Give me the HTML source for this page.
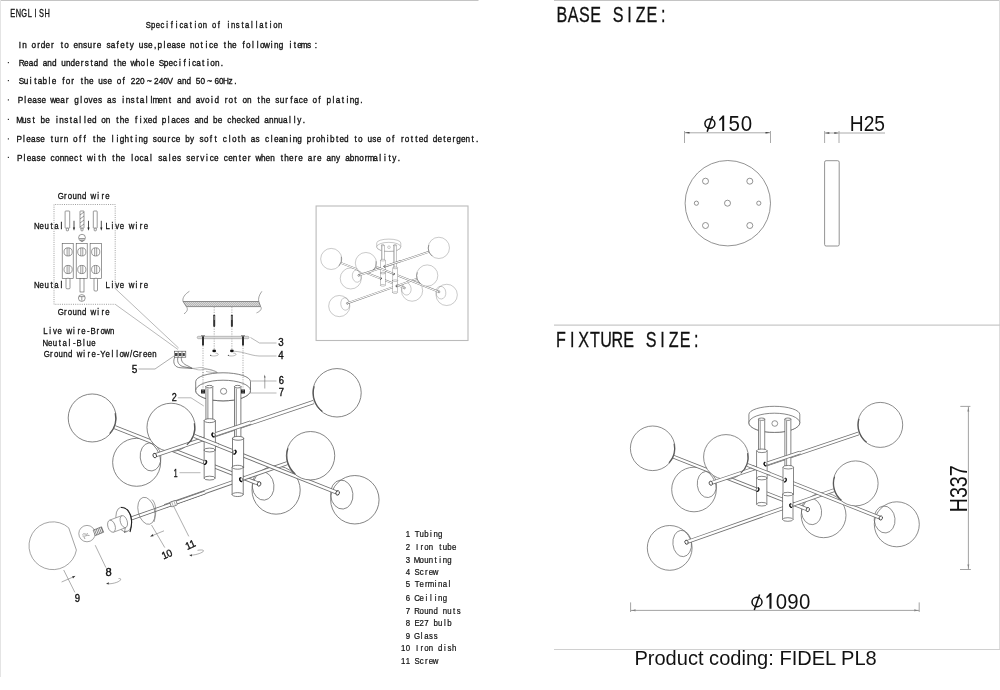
<!DOCTYPE html>
<html><head><meta charset="utf-8">
<style>
html,body{margin:0;padding:0;background:#fff;width:1000px;height:690px;overflow:hidden}
svg{display:block;filter:grayscale(1)}
.t{font-family:"Liberation Mono",monospace;fill:#111;stroke:#111;stroke-width:0.2}
.s{font-family:"Liberation Sans",sans-serif;fill:#111}
.ln{fill:none;stroke:#555;stroke-width:0.8}
.g{fill:#fff;stroke:#666;stroke-width:0.75}
.o{fill:none;stroke:#666;stroke-width:0.7}
.cy{fill:#fff;stroke:#555;stroke-width:0.7}
.nb{fill:#fff;stroke:#333;stroke-width:0.8}
</style></head>
<body>
<svg width="1000" height="690" viewBox="0 0 1000 690">
<defs>
  <g id="phi"><ellipse cx="0" cy="0" rx="5.0" ry="4.7" fill="none" stroke="#111" stroke-width="1.5"/><line x1="-2.7" y1="8.1" x2="2.6" y2="-7.6" stroke="#111" stroke-width="1.5"/></g>
  <path id="one" d="M-1.5,-15.4 L0,-15.4 L0,0 L-2,0 L-2,-12.5 L-4.6,-10.1 L-5.1,-11.5 Z" fill="#111"/>
  <g id="fx">
<circle cx="694" cy="489.5" r="22.3" class="g"/>
<ellipse cx="706.9" cy="484.5" rx="9.6" ry="13.1" transform="rotate(-6 706.9 484.5)" class="o"/>
<circle cx="896.8" cy="524.3" r="22.5" class="g"/>
<ellipse cx="884.6" cy="519.5" rx="10.4" ry="13.5" transform="rotate(-6 884.6 519.5)" class="o"/>
<circle cx="823.6" cy="515.3" r="22.4" class="g"/>
<ellipse cx="811.5" cy="511.5" rx="10.1" ry="13.2" transform="rotate(-6 811.5 511.5)" class="o"/>
<circle cx="669.7" cy="547.9" r="22.4" class="g"/>
<ellipse cx="682.2" cy="543.5" rx="9.3" ry="13.2" transform="rotate(-6 682.2 543.5)" class="o"/>
<line x1="673.50" y1="456.80" x2="807.80" y2="509.60" stroke="#707070" stroke-width="3.8"/><line x1="673.50" y1="456.80" x2="807.80" y2="509.60" stroke="#fff" stroke-width="2.3"/>
<circle cx="726" cy="457" r="22.4" class="g"/>
<line x1="710.80" y1="483.20" x2="858.50" y2="433.50" stroke="#707070" stroke-width="3.8"/><line x1="710.80" y1="483.20" x2="858.50" y2="433.50" stroke="#fff" stroke-width="2.3"/>
<line x1="686.50" y1="542.20" x2="834.00" y2="490.20" stroke="#707070" stroke-width="3.8"/><line x1="686.50" y1="542.20" x2="834.00" y2="490.20" stroke="#fff" stroke-width="2.3"/>
<line x1="747.50" y1="465.00" x2="880.80" y2="518.00" stroke="#707070" stroke-width="3.8"/><line x1="747.50" y1="465.00" x2="880.80" y2="518.00" stroke="#fff" stroke-width="2.3"/>
<circle cx="652.7" cy="448.3" r="22.3" class="g"/>
<circle cx="880.2" cy="424.9" r="22.5" class="g"/>
<circle cx="855.6" cy="483.4" r="22.5" class="g"/>
<path d="M674.07,443.76 A21.85,21.85 0 0 1 668.94,462.92" fill="none" stroke="#555" stroke-width="1.1"/>
<path d="M747.62,453.19 A21.95,21.95 0 0 1 740.69,473.31" fill="none" stroke="#555" stroke-width="1.1"/>
<path d="M866.62,442.28 A22.05,22.05 0 0 1 859.00,418.82" fill="none" stroke="#555" stroke-width="1.1"/>
<path d="M841.43,500.29 A22.05,22.05 0 0 1 834.63,476.59" fill="none" stroke="#555" stroke-width="1.1"/>
<path d="M748.9,414.5 A25.45,8.2 0 0 1 799.8,414.5 L799.8,422.8 A25.45,9.6 0 0 1 748.9,422.8 Z" class="cy"/>
<ellipse cx="774.35" cy="422.8" rx="25.45" ry="9.6" class="cy"/>
<ellipse cx="774.8" cy="423.5" rx="2.9" ry="2.8" class="o"/>
<rect x="758.4" y="419" width="6.4" height="33" class="cy"/><line x1="760.2" y1="421" x2="760.2" y2="451" class="o"/>
<ellipse cx="761.6" cy="419.2" rx="3.2" ry="1.2" class="cy"/>
<rect x="784.9" y="419" width="6.0" height="48.5" class="cy"/><line x1="786.6" y1="421" x2="786.6" y2="467" class="o"/>
<ellipse cx="787.9" cy="419.2" rx="3.0" ry="1.2" class="cy"/>
<rect x="756.7" y="450.8" width="10.40" height="27.30" class="cy"/><path d="M756.7,478.1 A5.20,1.8 0 0 0 767.1,478.1" class="o"/><ellipse cx="761.90" cy="450.8" rx="5.20" ry="1.8" class="cy"/>
<rect x="756.7" y="478.1" width="10.20" height="26.10" class="cy"/><ellipse cx="761.80" cy="504.2" rx="5.10" ry="1.8" class="cy"/><ellipse cx="761.80" cy="478.1" rx="5.10" ry="1.8" class="cy"/>
<rect x="783.0" y="467.2" width="10.50" height="26.90" class="cy"/><path d="M783.0,494.1 A5.25,1.8 0 0 0 793.5,494.1" class="o"/><ellipse cx="788.25" cy="467.2" rx="5.25" ry="1.8" class="cy"/>
<rect x="782.7" y="494.1" width="10.30" height="25.40" class="cy"/><ellipse cx="787.85" cy="519.5" rx="5.15" ry="1.8" class="cy"/><ellipse cx="787.85" cy="494.1" rx="5.15" ry="1.8" class="cy"/>
<line x1="752.00" y1="466.80" x2="770.00" y2="473.80" stroke="#707070" stroke-width="3.8"/><line x1="752.00" y1="466.80" x2="770.00" y2="473.80" stroke="#fff" stroke-width="2.3"/>
<ellipse cx="765.4" cy="464.1" rx="1.5" ry="1.9" transform="rotate(-20 765.4 464.1)" fill="#fff" stroke="#444" stroke-width="0.6"/><path d="M765.6999999999999,462.20000000000005 A1.5,1.9 0 0 0 765.6999999999999,466.0" transform="rotate(-20 765.4 464.1)" fill="none" stroke="#111" stroke-width="1.3"/>
<ellipse cx="785.0" cy="480.1" rx="1.5" ry="1.9" transform="rotate(20 785.0 480.1)" fill="#fff" stroke="#444" stroke-width="0.6"/><path d="M784.7,478.20000000000005 A1.5,1.9 0 0 1 784.7,482.0" transform="rotate(20 785.0 480.1)" fill="none" stroke="#111" stroke-width="1.3"/>
<ellipse cx="757.6" cy="489.6" rx="1.5" ry="1.9" transform="rotate(20 757.6 489.6)" fill="#fff" stroke="#444" stroke-width="0.6"/><path d="M757.3000000000001,487.70000000000005 A1.5,1.9 0 0 1 757.3000000000001,491.5" transform="rotate(20 757.6 489.6)" fill="none" stroke="#111" stroke-width="1.3"/>
<ellipse cx="791.1" cy="505.6" rx="1.5" ry="1.9" transform="rotate(-20 791.1 505.6)" fill="#fff" stroke="#444" stroke-width="0.6"/><path d="M791.4,503.70000000000005 A1.5,1.9 0 0 0 791.4,507.5" transform="rotate(-20 791.1 505.6)" fill="none" stroke="#111" stroke-width="1.3"/>
<line x1="767.50" y1="463.40" x2="800.00" y2="452.50" stroke="#707070" stroke-width="3.8"/><line x1="767.50" y1="463.40" x2="800.00" y2="452.50" stroke="#fff" stroke-width="2.3"/>
<ellipse cx="710.8" cy="483.2" rx="1.6" ry="2.1" transform="rotate(-18 710.8 483.2)" class="nb"/>
<ellipse cx="880.8" cy="518.0" rx="1.6" ry="2.1" transform="rotate(20 880.8 518.0)" class="nb"/>
<ellipse cx="807.8" cy="509.6" rx="1.6" ry="2.1" transform="rotate(20 807.8 509.6)" class="nb"/>
<ellipse cx="686.5" cy="542.2" rx="1.6" ry="2.1" transform="rotate(-18 686.5 542.2)" class="nb"/>
  </g>
  <g id="fxe">
<circle cx="694" cy="489.5" r="22.3" class="g"/>
<ellipse cx="706.9" cy="484.5" rx="9.6" ry="13.1" transform="rotate(-6 706.9 484.5)" class="o"/>
<circle cx="896.8" cy="524.3" r="22.5" class="g"/>
<ellipse cx="884.6" cy="519.5" rx="10.4" ry="13.5" transform="rotate(-6 884.6 519.5)" class="o"/>
<circle cx="823.6" cy="515.3" r="22.4" class="g"/>
<ellipse cx="811.5" cy="511.5" rx="10.1" ry="13.2" transform="rotate(-6 811.5 511.5)" class="o"/>
<line x1="673.50" y1="456.80" x2="807.80" y2="509.60" stroke="#707070" stroke-width="3.8"/><line x1="673.50" y1="456.80" x2="807.80" y2="509.60" stroke="#fff" stroke-width="2.3"/>
<circle cx="726" cy="457" r="22.4" class="g"/>
<line x1="710.80" y1="483.20" x2="858.50" y2="433.50" stroke="#707070" stroke-width="3.8"/><line x1="710.80" y1="483.20" x2="858.50" y2="433.50" stroke="#fff" stroke-width="2.3"/>
<line x1="720.00" y1="530.30" x2="834.00" y2="490.20" stroke="#707070" stroke-width="3.8"/><line x1="720.00" y1="530.30" x2="834.00" y2="490.20" stroke="#fff" stroke-width="2.3"/>
<line x1="747.50" y1="465.00" x2="880.80" y2="518.00" stroke="#707070" stroke-width="3.8"/><line x1="747.50" y1="465.00" x2="880.80" y2="518.00" stroke="#fff" stroke-width="2.3"/>
<circle cx="652.7" cy="448.3" r="22.3" class="g"/>
<circle cx="880.2" cy="424.9" r="22.5" class="g"/>
<circle cx="855.6" cy="483.4" r="22.5" class="g"/>
<path d="M674.07,443.76 A21.85,21.85 0 0 1 668.94,462.92" fill="none" stroke="#555" stroke-width="1.1"/>
<path d="M747.62,453.19 A21.95,21.95 0 0 1 740.69,473.31" fill="none" stroke="#555" stroke-width="1.1"/>
<path d="M866.62,442.28 A22.05,22.05 0 0 1 859.00,418.82" fill="none" stroke="#555" stroke-width="1.1"/>
<path d="M841.43,500.29 A22.05,22.05 0 0 1 834.63,476.59" fill="none" stroke="#555" stroke-width="1.1"/>
<path d="M748.9,414.5 A25.45,8.2 0 0 1 799.8,414.5 L799.8,422.8 A25.45,9.6 0 0 1 748.9,422.8 Z" class="cy"/>
<ellipse cx="774.35" cy="422.8" rx="25.45" ry="9.6" class="cy"/>
<ellipse cx="774.8" cy="423.5" rx="2.9" ry="2.8" class="o"/>
<rect x="758.4" y="419" width="6.4" height="33" class="cy"/><line x1="760.2" y1="421" x2="760.2" y2="451" class="o"/>
<ellipse cx="761.6" cy="419.2" rx="3.2" ry="1.2" class="cy"/>
<rect x="784.9" y="419" width="6.0" height="48.5" class="cy"/><line x1="786.6" y1="421" x2="786.6" y2="467" class="o"/>
<ellipse cx="787.9" cy="419.2" rx="3.0" ry="1.2" class="cy"/>
<rect x="756.7" y="450.8" width="10.40" height="27.30" class="cy"/><path d="M756.7,478.1 A5.20,1.8 0 0 0 767.1,478.1" class="o"/><ellipse cx="761.90" cy="450.8" rx="5.20" ry="1.8" class="cy"/>
<rect x="756.7" y="478.1" width="10.20" height="26.10" class="cy"/><ellipse cx="761.80" cy="504.2" rx="5.10" ry="1.8" class="cy"/><ellipse cx="761.80" cy="478.1" rx="5.10" ry="1.8" class="cy"/>
<rect x="783.0" y="467.2" width="10.50" height="26.90" class="cy"/><path d="M783.0,494.1 A5.25,1.8 0 0 0 793.5,494.1" class="o"/><ellipse cx="788.25" cy="467.2" rx="5.25" ry="1.8" class="cy"/>
<rect x="782.7" y="494.1" width="10.30" height="25.40" class="cy"/><ellipse cx="787.85" cy="519.5" rx="5.15" ry="1.8" class="cy"/><ellipse cx="787.85" cy="494.1" rx="5.15" ry="1.8" class="cy"/>
<line x1="752.00" y1="466.80" x2="770.00" y2="473.80" stroke="#707070" stroke-width="3.8"/><line x1="752.00" y1="466.80" x2="770.00" y2="473.80" stroke="#fff" stroke-width="2.3"/>
<ellipse cx="765.4" cy="464.1" rx="1.5" ry="1.9" transform="rotate(-20 765.4 464.1)" fill="#fff" stroke="#444" stroke-width="0.6"/><path d="M765.6999999999999,462.20000000000005 A1.5,1.9 0 0 0 765.6999999999999,466.0" transform="rotate(-20 765.4 464.1)" fill="none" stroke="#111" stroke-width="1.3"/>
<ellipse cx="785.0" cy="480.1" rx="1.5" ry="1.9" transform="rotate(20 785.0 480.1)" fill="#fff" stroke="#444" stroke-width="0.6"/><path d="M784.7,478.20000000000005 A1.5,1.9 0 0 1 784.7,482.0" transform="rotate(20 785.0 480.1)" fill="none" stroke="#111" stroke-width="1.3"/>
<ellipse cx="757.6" cy="489.6" rx="1.5" ry="1.9" transform="rotate(20 757.6 489.6)" fill="#fff" stroke="#444" stroke-width="0.6"/><path d="M757.3000000000001,487.70000000000005 A1.5,1.9 0 0 1 757.3000000000001,491.5" transform="rotate(20 757.6 489.6)" fill="none" stroke="#111" stroke-width="1.3"/>
<ellipse cx="791.1" cy="505.6" rx="1.5" ry="1.9" transform="rotate(-20 791.1 505.6)" fill="#fff" stroke="#444" stroke-width="0.6"/><path d="M791.4,503.70000000000005 A1.5,1.9 0 0 0 791.4,507.5" transform="rotate(-20 791.1 505.6)" fill="none" stroke="#111" stroke-width="1.3"/>
<line x1="767.50" y1="463.40" x2="800.00" y2="452.50" stroke="#707070" stroke-width="3.8"/><line x1="767.50" y1="463.40" x2="800.00" y2="452.50" stroke="#fff" stroke-width="2.3"/>
<ellipse cx="710.8" cy="483.2" rx="1.6" ry="2.1" transform="rotate(-18 710.8 483.2)" class="nb"/>
<ellipse cx="880.8" cy="518.0" rx="1.6" ry="2.1" transform="rotate(20 880.8 518.0)" class="nb"/>
<ellipse cx="807.8" cy="509.6" rx="1.6" ry="2.1" transform="rotate(20 807.8 509.6)" class="nb"/>
  </g>
</defs>

<!-- page borders -->
<line x1="0" y1="0.5" x2="478.5" y2="0.5" stroke="#c4c4c4" stroke-width="1.1"/>
<line x1="554" y1="0.5" x2="1000" y2="0.5" stroke="#c4c4c4" stroke-width="1.1"/>
<line x1="0.5" y1="0" x2="0.5" y2="677" stroke="#e4e4e4" stroke-width="1"/>
<line x1="999.5" y1="0" x2="999.5" y2="649" stroke="#ddd" stroke-width="1"/>
<line x1="554" y1="325.1" x2="1000" y2="325.1" stroke="#c8c8c8" stroke-width="1.2"/>
<line x1="554" y1="649.5" x2="1000" y2="649.5" stroke="#d0d0d0" stroke-width="1"/>

<!-- spec text -->
<text class="s" transform="scale(0.68,1)" text-anchor="middle" x="18.68 27.11 35.54 43.97 52.40 60.83 69.26" y="16.7" font-size="10.9" style="stroke:#111;stroke-width:0.32">ENGLISH</text>
<text class="s" transform="scale(0.83,1)" text-anchor="middle" x="178.80 184.46 190.13 195.80 201.46 207.13 212.80 218.46 224.13 229.80 235.46 241.13 246.80 252.47 258.13 263.80 269.47 275.13 280.80 286.47 292.13 297.80 303.47 309.14 314.80 320.47 326.14 331.80 337.47" y="27.8" font-size="9.3" style="stroke:#111;stroke-width:0.33">Specification of installation</text>
<text class="s" transform="scale(0.83,1)" text-anchor="middle" x="23.92 29.53 35.15 40.77 46.39 52.01 57.62 63.24 68.86 74.48 80.10 85.71 91.33 96.95 102.57 108.19 113.80 119.42 125.04 130.66 136.28 141.89 147.51 153.13 158.75 164.37 169.99 175.60 181.22 186.84 192.46 198.08 203.69 209.31 214.93 220.55 226.17 231.78 237.40 243.02 248.64 254.26 259.87 265.49 271.11 276.73 282.35 287.96 293.58 299.20 304.82 310.44 316.05 321.67 327.29 332.91 338.53 344.15 349.76 355.38 361.00 366.62 372.24 380.66" y="47.75" font-size="9.9" style="stroke:#111;stroke-width:0.36">In order to ensure safety use,please notice the following items:</text>
<text class="s" transform="scale(0.83,1)" text-anchor="middle" x="26.14 31.75 37.36 42.97 48.58 54.19 59.80 65.41 71.02 76.63 82.24 87.85 93.46 99.07 104.68 110.29 115.90 121.50 127.11 132.72 138.33 143.94 149.55 155.16 160.77 166.38 171.99 177.60 183.21 188.82 194.43 200.04 205.65 211.26 216.86 222.47 228.08 233.69 239.30 244.91 250.52 256.13 261.74 267.35" y="65.75" font-size="9.9" style="stroke:#111;stroke-width:0.36">Read and understand the whole Specification.</text>
<text class="s" transform="scale(0.83,1)" text-anchor="middle" x="25.90 31.50 37.10 42.70 48.30 53.90 59.50 65.10 70.70 76.30 81.90 87.50 93.10 98.70 104.30 109.90 115.50 121.10 126.70 132.30 137.90 143.50 149.10 154.70 160.30 165.90 171.50 179.90 188.30 193.90 199.50 205.10 210.70 216.30 221.90 227.50 233.10 238.70 244.30 252.70 261.09 266.69 272.29 277.89 283.49" y="83.75" font-size="9.9" style="stroke:#111;stroke-width:0.36">Suitable for the use of 220~240V and 50~60Hz.</text>
<text class="s" transform="scale(0.83,1)" text-anchor="middle" x="24.76 30.39 36.01 41.64 47.26 52.89 58.52 64.14 69.77 75.40 81.02 86.65 92.28 97.90 103.53 109.15 114.78 120.41 126.03 131.66 137.29 142.91 148.54 154.16 159.79 165.42 171.04 176.67 182.30 187.92 193.55 199.18 204.80 210.43 216.05 221.68 227.31 232.93 238.56 244.19 249.81 255.44 261.07 266.69 272.32 277.94 283.57 289.20 294.82 300.45 306.08 311.70 317.33 322.96 328.58 334.21 339.83 345.46 351.09 356.71 362.34 367.97 373.59 379.22 384.84 390.47 396.10 401.72 407.35 412.98 418.60 424.23 429.86 435.48" y="103" font-size="9.9" style="stroke:#111;stroke-width:0.36">Please wear gloves as installment and avoid rot on the surface of plating.</text>
<text class="s" transform="scale(0.83,1)" text-anchor="middle" x="23.61 29.23 34.85 40.46 46.08 51.70 57.31 62.93 68.54 74.16 79.78 85.39 91.01 96.63 102.24 107.86 113.47 119.09 124.71 130.32 135.94 141.56 147.17 152.79 158.40 164.02 169.64 175.25 180.87 186.49 192.10 197.72 203.33 208.95 214.57 220.18 225.80 231.42 237.03 242.65 248.26 253.88 259.50 265.11 270.73 276.35 281.96 287.58 293.19 298.81 304.43 310.04 315.66 321.27 326.89 332.51 338.12 343.74 349.36 354.97 360.59 366.20" y="123" font-size="9.9" style="stroke:#111;stroke-width:0.36">Must be installed on the fixed places and be checked annually.</text>
<text class="s" transform="scale(0.83,1)" text-anchor="middle" x="23.25 28.88 34.51 40.14 45.77 51.40 57.03 62.66 68.29 73.92 79.55 85.18 90.81 96.44 102.07 107.69 113.32 118.95 124.58 130.21 135.84 141.47 147.10 152.73 158.36 163.99 169.62 175.25 180.88 186.51 192.14 197.77 203.40 209.03 214.65 220.28 225.91 231.54 237.17 242.80 248.43 254.06 259.69 265.32 270.95 276.58 282.21 287.84 293.47 299.10 304.73 310.36 315.98 321.61 327.24 332.87 338.50 344.13 349.76 355.39 361.02 366.65 372.28 377.91 383.54 389.17 394.80 400.43 406.06 411.69 417.31 422.94 428.57 434.20 439.83 445.46 451.09 456.72 462.35 467.98 473.61 479.24 484.87 490.50 496.13 501.76 507.39 513.02 518.65 524.27 529.90 535.53 541.16 546.79 552.42 558.05 563.68 569.31 574.94" y="142" font-size="9.9" style="stroke:#111;stroke-width:0.36">Please turn off the lighting source by soft cloth as cleaning prohibted to use of rotted detergent.</text>
<text class="s" transform="scale(0.83,1)" text-anchor="middle" x="23.86 29.50 35.13 40.77 46.41 52.05 57.69 63.33 68.97 74.61 80.25 85.89 91.53 97.17 102.81 108.45 114.09 119.73 125.37 131.01 136.65 142.29 147.93 153.57 159.21 164.85 170.48 176.12 181.76 187.40 193.04 198.68 204.32 209.96 215.60 221.24 226.88 232.52 238.16 243.80 249.44 255.08 260.72 266.36 272.00 277.64 283.28 288.92 294.56 300.20 305.84 311.47 317.11 322.75 328.39 334.03 339.67 345.31 350.95 356.59 362.23 367.87 373.51 379.15 384.79 390.43 396.07 401.71 407.35 412.99 418.63 424.27 429.91 435.55 441.19 446.83 452.46 458.10 463.74 469.38 475.02 480.66" y="160.9" font-size="9.9" style="stroke:#111;stroke-width:0.36">Please connect with the local sales service center when there are any abnormality.</text>
<g fill="#333">
<rect x="7.8" y="62" width="1.2" height="1.2"/>
<rect x="7.8" y="80" width="1.2" height="1.2"/>
<rect x="7.8" y="99.3" width="1.2" height="1.2"/>
<rect x="7.8" y="118.8" width="1.2" height="1.2"/>
<rect x="7.8" y="138.3" width="1.2" height="1.2"/>
<rect x="7.8" y="156.8" width="1.2" height="1.2"/>
</g>

<!-- right side headings -->
<text class="s" transform="scale(0.74,1)" text-anchor="middle" x="759.46 774.65 789.84 805.03 820.22 835.41 850.59 865.78 880.97 896.16" y="22.3" font-size="21.8" style="stroke:#111;stroke-width:0.3">BASE SIZE:</text>
<text class="s" transform="scale(0.74,1)" text-anchor="middle" x="758.11 773.35 788.59 803.84 819.08 834.32 849.57 864.81 880.05 895.30 910.54 925.78 941.03" y="346.6" font-size="21.8" style="stroke:#111;stroke-width:0.3">FIXTURE SIZE:</text>

<!-- base plate -->
<g fill="none" stroke="#777" stroke-width="0.8">
<circle cx="727.8" cy="203.2" r="42.7"/>
<circle cx="705.5" cy="181.2" r="3"/>
<circle cx="749.8" cy="181.2" r="3"/>
<circle cx="696.4" cy="203.2" r="2.1"/>
<circle cx="727.5" cy="203.2" r="3"/>
<circle cx="758.8" cy="203.2" r="2.1"/>
<circle cx="705.5" cy="225.5" r="3"/>
<circle cx="749.8" cy="225.5" r="3"/>
<rect x="824.6" y="160.7" width="14.6" height="85.3" rx="1.5"/>
</g>
<!-- base dims -->
<g stroke="#aaa" stroke-width="1" fill="none">
<line x1="684.5" y1="132.8" x2="770.5" y2="132.8"/>
<line x1="684.5" y1="131" x2="684.5" y2="143"/>
<line x1="770.5" y1="131" x2="770.5" y2="143"/>
<line x1="824.6" y1="133" x2="885" y2="133"/>
<line x1="824.6" y1="131" x2="824.6" y2="143"/>
<line x1="839" y1="131" x2="839" y2="143"/>
</g>
<g fill="#333">
<path d="M684.8,132.8 L689.5,132 L689.5,133.6Z"/><path d="M770.2,132.8 L765.5,132 L765.5,133.6Z"/>
<path d="M824.9,133 L829.3,132.2 L829.3,133.8Z"/><path d="M838.7,133 L834.3,132.2 L834.3,133.8Z"/>
<path d="M630.9,610.4 L635.5,609.6 L635.5,611.2Z"/><path d="M918.9,610.4 L914.3,609.6 L914.3,611.2Z"/>
<path d="M968.4,406.8 L967.6,411.4 L969.2,411.4Z"/><path d="M968.4,569.1 L967.6,564.5 L969.2,564.5Z"/>
</g>
<use href="#phi" x="709.9" y="123.6"/>
<use href="#one" transform="translate(724.2,131)"/>
<text class="s" transform="scale(0.92,1)" text-anchor="middle" x="798.10 811.25" y="131" font-size="22.3">50</text>
<text class="s" x="849.8" y="131.2" font-size="22.3" textLength="35.2" lengthAdjust="spacingAndGlyphs">H25</text>

<!-- fixture dims -->
<g stroke="#999" stroke-width="0.9" fill="none">
<line x1="630.6" y1="610.4" x2="919.2" y2="610.4"/>
<line x1="630.6" y1="602.4" x2="630.6" y2="612"/>
<line x1="919.2" y1="602.4" x2="919.2" y2="612"/>
<line x1="968.4" y1="406.4" x2="968.4" y2="569.5"/>
<line x1="960.3" y1="406.4" x2="970.4" y2="406.4"/>
<line x1="960" y1="569.5" x2="970.9" y2="569.5"/>
</g>
<use href="#phi" x="757" y="602"/>
<use href="#one" transform="translate(771.5,608.8) scale(1.03)"/>
<text class="s" transform="scale(0.92,1)" text-anchor="middle" x="849.35 861.96 874.57" y="608.8" font-size="22.2">090</text>
<text class="s" transform="translate(966.7,512.3) rotate(-90)" x="0" y="0" font-size="23" textLength="47" lengthAdjust="spacingAndGlyphs">H337</text>
<text class="s" x="634.4" y="665" font-size="20.3" textLength="242.4" lengthAdjust="spacingAndGlyphs">Product coding: FIDEL PL8</text>

<!-- fixture view -->
<use href="#fx"/>
<!-- inset -->
<rect x="316.1" y="206" width="151.9" height="134.5" fill="none" stroke="#bbb" stroke-width="1.1"/>
<use href="#fx" transform="translate(22.5,46.9) scale(0.473)"/>
<!-- exploded -->
<!-- ===== wiring diagram ===== -->
<text class="s" transform="scale(0.88,1)" text-anchor="middle" x="68.98 74.30 79.61 84.93 90.25 95.57 100.89 106.20 111.52 116.84 122.16" y="199" font-size="8.9" style="stroke:#111;stroke-width:0.3">Ground wire</text>
<text class="s" transform="scale(0.88,1)" text-anchor="middle" x="41.82 47.39 52.95 58.52 64.09 69.66" y="229.2" font-size="8.9" style="stroke:#111;stroke-width:0.3">Neutal</text>
<text class="s" transform="scale(0.88,1)" text-anchor="middle" x="122.27 127.71 133.15 138.59 144.03 149.47 154.91 160.36 165.80" y="229.2" font-size="8.9" style="stroke:#111;stroke-width:0.3">Live wire</text>
<text class="s" transform="scale(0.88,1)" text-anchor="middle" x="41.82 47.41 53.00 58.59 64.18 69.77" y="288.3" font-size="8.9" style="stroke:#111;stroke-width:0.3">Neutal</text>
<text class="s" transform="scale(0.88,1)" text-anchor="middle" x="122.27 127.71 133.15 138.59 144.03 149.47 154.91 160.36 165.80" y="288.3" font-size="8.9" style="stroke:#111;stroke-width:0.3">Live wire</text>
<text class="s" transform="scale(0.88,1)" text-anchor="middle" x="68.98 74.30 79.61 84.93 90.25 95.57 100.89 106.20 111.52 116.84 122.16" y="314.6" font-size="8.9" style="stroke:#111;stroke-width:0.3">Ground wire</text>
<text class="s" transform="scale(0.88,1)" text-anchor="middle" x="51.59 57.00 62.42 67.83 73.25 78.66 84.07 89.49 94.90 100.32 105.73 111.14 116.56 121.97 127.39" y="333.7" font-size="8.9" style="stroke:#111;stroke-width:0.3">Live wire-Brown</text>
<text class="s" transform="scale(0.88,1)" text-anchor="middle" x="51.59 57.05 62.50 67.95 73.41 78.86 84.32 89.77 95.23 100.68 106.14" y="345.7" font-size="8.9" style="stroke:#111;stroke-width:0.3">Neutal-Blue</text>
<text class="s" transform="scale(0.88,1)" text-anchor="middle" x="53.07 58.39 63.72 69.05 74.37 79.70 85.02 90.35 95.68 101.00 106.33 111.66 116.98 122.31 127.63 132.96 138.29 143.61 148.94 154.26 159.59 164.92 170.24 175.57" y="357.3" font-size="8.9" style="stroke:#111;stroke-width:0.3">Ground wire-Yellow/Green</text>
<path d="M115.2,288.5 V204.5 H54 V304.3 H115.2" fill="none" stroke="#777" stroke-width="0.7" stroke-dasharray="1 1.2"/>
<g fill="#fff" stroke="#555" stroke-width="0.6">
<rect x="65.1" y="211" width="4.6" height="17.2" rx="0.7"/>
<rect x="80" y="211" width="4.0" height="17.2" rx="0.5"/>
<rect x="93.3" y="211" width="3.9" height="17.2" rx="0.7"/>
<rect x="66.3" y="228.2" width="2.2" height="2.6" rx="0.6"/>
<rect x="81" y="228.2" width="2.0" height="2.6" rx="0.6"/>
<rect x="94.2" y="228.2" width="2.1" height="2.6" rx="0.6"/>
<path d="M80,215 L84,212 M80,219 L84,216 M80,223 L84,220 M80,227 L84,224" fill="none"/>
<circle cx="82" cy="237.7" r="3.4"/>
<path d="M79.2,238.5 h5.6 M80,240 h4 M80.8,241.3 h2.4" fill="none"/>
<rect x="62.2" y="243.5" width="11" height="34.8"/>
<rect x="76.2" y="243.5" width="11" height="34.8"/>
<rect x="90.1" y="243.5" width="11.2" height="34.8"/>
<circle cx="68.1" cy="251.9" r="4.1"/><circle cx="81.8" cy="251.9" r="4.1"/><circle cx="95.7" cy="251.9" r="4.1"/>
<circle cx="68.1" cy="269.5" r="4.1"/><circle cx="81.8" cy="269.5" r="4.1"/><circle cx="95.7" cy="269.5" r="4.1"/>
<path d="M67.1,247.9 v8 M69.1,247.9 v8 M80.8,247.9 v8 M82.8,247.9 v8 M94.7,247.9 v8 M96.7,247.9 v8 M67.1,265.5 v8 M69.1,265.5 v8 M80.8,265.5 v8 M82.8,265.5 v8 M94.7,265.5 v8 M96.7,265.5 v8" fill="none"/>
<rect x="66" y="278.3" width="4" height="10.5" rx="1"/>
<rect x="80" y="278.3" width="4" height="13.7"/>
<rect x="94" y="278.3" width="3.5" height="12.7" rx="1"/>
<circle cx="81.8" cy="298" r="3.4"/>
<path d="M79,296.6 h5.6 M81.8,296.6 v4" fill="none"/>
</g>
<g stroke="#222" stroke-width="0.8" fill="#222">
<line x1="74" y1="220.8" x2="74" y2="228"/><path d="M72.9,227.5 L74,230.8 L75.1,227.5Z" stroke="none"/>
<line x1="88.5" y1="220.8" x2="88.5" y2="228"/><path d="M87.4,227.5 L88.5,230.8 L89.6,227.5Z" stroke="none"/>
<line x1="101.3" y1="220.8" x2="101.3" y2="228"/><path d="M100.2,227.5 L101.3,230.8 L102.4,227.5Z" stroke="none"/>
</g>
<!-- leader lines from wiring box to terminal -->
<g stroke="#8a8a8a" stroke-width="0.6" fill="none">
<line x1="115.2" y1="304.3" x2="178" y2="349.5"/>
<line x1="115.2" y1="288.5" x2="178.6" y2="348"/>
</g>
<!-- terminal 5 -->
<g stroke="#444" stroke-width="0.6" fill="#fff">
<rect x="174.4" y="351.2" width="11.4" height="6" />
<line x1="178.2" y1="351.2" x2="178.2" y2="357.2"/><line x1="182" y1="351.2" x2="182" y2="357.2"/>
</g>
<g fill="#444"><rect x="175" y="353" width="2.6" height="3"/><rect x="178.8" y="353" width="2.6" height="3"/><rect x="182.6" y="353" width="2.2" height="3"/></g>
<g stroke="#555" stroke-width="0.7" fill="none">
<path d="M174.6,357.2 C172.5,363 174.5,367.6 181,367.8 L192.4,368.4"/>
<path d="M177.9,357.2 C176.8,362 178.6,366 185,367 L192.4,368.4"/>
<path d="M181.4,357.2 C180.8,361 183,364 188,366 L192.4,368.4"/>
</g>
<g stroke="#888" stroke-width="0.55" fill="none">
<path d="M192.4,368.4 C197,368.6 199,367 202,367.6 C206,368.4 209,370 213,370.6 C215.5,371 216.5,371.8 217.4,372.6"/>
<path d="M192.4,368.4 C197,369.8 200,370.4 203,369.6 C206,368.8 209,369 212,370 C214.5,371 216,372 217.4,372.6"/>
<path d="M206,371.4 C210,372.4 214,372.6 217.4,372.6"/>
</g>
<path d="M138.5,369 H155 L174,356" fill="none" stroke="#777" stroke-width="0.6"/>
<text class="s" x="131.8" y="373" font-size="11" style="stroke:#111;stroke-width:0.35" textLength="5.6" lengthAdjust="spacingAndGlyphs">5</text>

<!-- ===== ceiling ===== -->
<defs><pattern id="hatch" width="2" height="2" patternUnits="userSpaceOnUse"><rect width="2" height="2" fill="#d8d8d8"/><path d="M0,2 L2,0" stroke="#999" stroke-width="0.5"/></pattern></defs>
<path d="M183.1,301.5 H258.8 L260.6,306.6 H186.3 Z" fill="url(#hatch)" stroke="#666" stroke-width="0.7"/>
<g fill="none" stroke="#666" stroke-width="0.6">
<path d="M189.4,291.3 C185,294 182,298 183.1,301.5"/>
<path d="M186.3,306.6 C188.5,309 187,312 184,313.8"/>
<path d="M261.9,291.3 C259,295 258,299 258.8,301.5"/>
<path d="M260.6,306.6 C262.5,309 260,311.5 256.5,312.9"/>
</g>
<!-- dashed guide lines -->
<g stroke="#777" stroke-width="0.6" stroke-dasharray="1.2 1.2" fill="none">
<line x1="214.2" y1="307" x2="214.2" y2="349.5"/>
<line x1="231.9" y1="307" x2="231.9" y2="349.5"/>
<line x1="203" y1="345.5" x2="203" y2="389"/>
<line x1="243" y1="345.5" x2="243" y2="389"/>
</g>
<!-- wall plugs -->
<g fill="#333"><rect x="213.2" y="314.7" width="2" height="12.2" rx="0.8"/><rect x="230.9" y="314.7" width="2" height="12.2" rx="0.8"/></g>
<g fill="#888"><rect x="213.6" y="316" width="1.2" height="4"/><rect x="231.3" y="316" width="1.2" height="4"/></g>
<!-- mounting bar -->
<rect x="197.2" y="336.3" width="51.8" height="2.4" rx="1.2" fill="#ddd" stroke="#888" stroke-width="0.5"/>
<g fill="#333"><rect x="202" y="335" width="2" height="10.5"/><rect x="242" y="335" width="2" height="10.5"/></g>
<g fill="#999"><rect x="201" y="335" width="4" height="1.4"/><rect x="241" y="335" width="4" height="1.4"/></g>
<!-- screws 4 -->
<g fill="#111"><ellipse cx="214.2" cy="350.9" rx="1.9" ry="1.3"/><ellipse cx="231.9" cy="350.9" rx="1.9" ry="1.3"/></g>
<g fill="none" stroke="#777" stroke-width="0.5">
<path d="M210.5,355.4 C212,356.5 218,356 218.3,354.6 C218.5,353.3 216,353 215.5,353.2"/>
<path d="M228.2,355.4 C229.7,356.5 235.7,356 236,354.6 C236.2,353.3 233.7,353 233.2,353.2"/>
</g>
<g fill="#555"><circle cx="210.7" cy="355.4" r="0.6"/><circle cx="228.4" cy="355.4" r="0.6"/></g>
<!-- labels 3 4 6 7 -->
<g fill="none" stroke="#888" stroke-width="0.6">
<path d="M250.5,337.5 L259.5,343 H276.5"/>
<path d="M234,351.2 C245,352 250,355.5 259,356 H276.5"/>
<path d="M250.8,381 H276.5"/>
<path d="M250,393 H276.5"/>
<path d="M177.8,397.8 H191 L203.8,406"/>
<path d="M179.5,472.7 H200.5"/>
</g>
<line x1="264.8" y1="376.5" x2="264.8" y2="388.5" stroke="#666" stroke-width="0.6"/>
<path d="M264.2,377.5 L264.8,374.5 L265.4,377.5Z" fill="#333"/>
<g class="s" font-size="10.2" style="stroke:#111;stroke-width:0.35">
<text x="278.3" y="346.2" textLength="5.4" lengthAdjust="spacingAndGlyphs">3</text>
<text x="278.3" y="359.2" textLength="5.4" lengthAdjust="spacingAndGlyphs">4</text>
<text x="278.7" y="384.4" textLength="5.2" lengthAdjust="spacingAndGlyphs">6</text>
<text x="278.7" y="396.2" textLength="5.2" lengthAdjust="spacingAndGlyphs">7</text>
<text x="171.8" y="400.8" textLength="5" lengthAdjust="spacingAndGlyphs">2</text>
<text x="173.8" y="476.5" textLength="3.8" lengthAdjust="spacingAndGlyphs">1</text>
</g>
<!-- nuts 7 on canopy (drawn after fixture) -->

<use href="#fxe" transform="translate(-610.1,-64.4) scale(1.076)"/>
<!-- on top of exploded fixture -->
<g stroke="#777" stroke-width="0.6" stroke-dasharray="1.2 1.2" fill="none">
<line x1="203" y1="372" x2="203" y2="389"/>
<line x1="243" y1="372" x2="243" y2="389"/>
</g>
<g fill="#222"><rect x="201" y="389.5" width="4" height="4"/><rect x="241" y="389.5" width="4" height="4"/></g>
<g fill="#888"><rect x="201.8" y="390.3" width="2.4" height="0.6"/><rect x="201.8" y="391.8" width="2.4" height="0.6"/><rect x="241.8" y="390.3" width="2.4" height="0.6"/><rect x="241.8" y="391.8" width="2.4" height="0.6"/></g>

<!-- exploded parts along rod 4 -->
<g fill="none" stroke="#666" stroke-width="0.6">
<!-- globe 9 with flat neck -->
<path d="M68.7,527.8 A23.9,23.9 0 1 0 76.4,550.1 Z"/>
</g>
<!-- screw 11 collar -->
<!-- rod continuation -->
<line x1="131.4" y1="518.4" x2="205" y2="492.5" stroke="#666" stroke-width="3.8"/>
<line x1="131.4" y1="518.4" x2="205" y2="492.5" stroke="#fff" stroke-width="2.3"/>
<g transform="translate(173.6,503.6) rotate(-19.4)"><rect x="-3.2" y="-2.5" width="6.4" height="5" rx="1" fill="#fff" stroke="#555" stroke-width="0.6"/><line x1="-1.2" y1="-2.5" x2="-1.2" y2="2.5" stroke="#777" stroke-width="0.5"/><line x1="1.2" y1="-2.5" x2="1.2" y2="2.5" stroke="#777" stroke-width="0.5"/></g>
<!-- iron dish 10 -->
<g fill="none" stroke="#666" stroke-width="0.6">
<ellipse cx="146.4" cy="510.8" rx="8.2" ry="13.8" transform="rotate(-14 146.4 510.8)"/>
<path d="M152,499.5 C156,503 157,512 154,522"/>
</g>
<!-- lock ring -->
<g fill="none">
<ellipse cx="123.8" cy="519.5" rx="7.5" ry="12.6" transform="rotate(-14 123.8 519.5)" stroke="#666" stroke-width="0.6"/>
<path d="M121,507.5 C127,507 131,513 131.5,520 C132,526 130.5,530 130,532" stroke="#222" stroke-width="1.1"/>
<path d="M125.2,528 L124.5,533 L127,530.5" stroke="#555" stroke-width="0.6"/>
</g>
<!-- socket holder cylinder -->
<g fill="#fff" stroke="#666" stroke-width="0.6">
<path d="M109.5,520.2 L121.8,515.6 L125.8,527.6 L113.5,532.2 Z" stroke="none"/>
<line x1="109.5" y1="520.2" x2="121.8" y2="515.6"/>
<line x1="113.5" y1="532.2" x2="125.8" y2="527.6"/>
<ellipse cx="111.5" cy="526.2" rx="3.6" ry="6.2" transform="rotate(-18 111.5 526.2)"/>
<ellipse cx="123.8" cy="521.6" rx="3.4" ry="6.2" transform="rotate(-18 123.8 521.6)" fill="none"/>
</g>
<!-- bulb 8 -->
<g fill="none" stroke="#666" stroke-width="0.6">
<circle cx="87" cy="533.6" r="8.2"/>
<path d="M82.5,534.5 C84,532.5 86,535.5 88,533.5 M82.5,536 C85,537 87,534.5 89.5,535.5 M84,537 L85,539"/>
</g>
<g fill="#fff" stroke="#444" stroke-width="0.6">
<path d="M93.2,530.2 L101.5,526.8 L103.6,532.2 L95.3,535.6 Z"/>
</g>
<g stroke="#333" stroke-width="0.6">
<line x1="94.6" y1="529.7" x2="96.6" y2="535.1"/><line x1="96.2" y1="529.0" x2="98.2" y2="534.4"/><line x1="97.8" y1="528.4" x2="99.8" y2="533.8"/><line x1="99.4" y1="527.7" x2="101.4" y2="533.1"/><line x1="101" y1="527" x2="103" y2="532.4"/>
</g>
<!-- leader lines & arrows lower-left -->
<g fill="none" stroke="#777" stroke-width="0.6">
<line x1="63.7" y1="570" x2="74.9" y2="592.4"/>
<line x1="61.6" y1="582" x2="75.2" y2="576.1"/>
<line x1="95.2" y1="545.2" x2="105.9" y2="567.6"/>
<path d="M106.4,583.6 C110,584.5 119,582.5 120.5,580 C121.5,578.5 119.5,578.3 118.5,578.6"/>
<line x1="151.5" y1="525" x2="164.8" y2="547.6"/>
<line x1="150.4" y1="536.4" x2="164" y2="530.8"/>
<line x1="173.8" y1="506.5" x2="188.8" y2="536.4"/>
<path d="M189.4,555.1 C194,555.5 201,553.5 203.2,551.5 C204.5,550 202,549.6 197.5,550.3"/>
</g>
<g fill="#333">
<path d="M75.2,576.1 L72.2,576.3 L73,578.5Z"/>
<path d="M150.4,536.4 L153.5,536.2 L152.7,534Z"/>
<path d="M106.4,583.6 L108.8,582.3 L108.6,584.6Z"/>
<path d="M189.6,555.6 L192,554.3 L191.8,556.6Z"/>
</g>
<g class="s" font-size="10.2" style="stroke:#111;stroke-width:0.35">
<text x="74.7" y="602" textLength="5.3" lengthAdjust="spacingAndGlyphs">9</text>
<text x="105.5" y="576.4" textLength="6.2" lengthAdjust="spacingAndGlyphs">8</text>
<text transform="translate(163.4,559.6) rotate(-24)" textLength="10.8" lengthAdjust="spacingAndGlyphs">10</text>
<text transform="translate(187.2,550) rotate(-24)" textLength="10" lengthAdjust="spacingAndGlyphs">11</text>
</g>

<!-- ===== parts list ===== -->
<text class="s" transform="scale(0.88,1)" text-anchor="middle" x="463.52 468.77 474.02 479.27 484.52 489.77 495.02 500.27" y="537.2" font-size="8.9" style="stroke:#111;stroke-width:0.22">1 Tubing</text>
<text class="s" transform="scale(0.88,1)" text-anchor="middle" x="463.52 468.77 474.02 479.27 484.52 489.77 495.02 500.27 505.52 510.77 516.02" y="549.6" font-size="8.9" style="stroke:#111;stroke-width:0.22">2 Iron tube</text>
<text class="s" transform="scale(0.88,1)" text-anchor="middle" x="463.52 468.77 474.02 479.27 484.52 489.77 495.02 500.27 505.52 510.77" y="563" font-size="8.9" style="stroke:#111;stroke-width:0.22">3 Mounting</text>
<text class="s" transform="scale(0.88,1)" text-anchor="middle" x="463.52 468.77 474.02 479.27 484.52 489.77 495.02" y="574.7" font-size="8.9" style="stroke:#111;stroke-width:0.22">4 Screw</text>
<text class="s" transform="scale(0.88,1)" text-anchor="middle" x="463.52 468.77 474.02 479.27 484.52 489.77 495.02 500.27 505.52 510.77" y="587.4" font-size="8.9" style="stroke:#111;stroke-width:0.22">5 Terminal</text>
<text class="s" transform="scale(0.88,1)" text-anchor="middle" x="463.52 468.77 474.02 479.27 484.52 489.77 495.02 500.27 505.52" y="601.2" font-size="8.9" style="stroke:#111;stroke-width:0.22">6 Ceiling</text>
<text class="s" transform="scale(0.88,1)" text-anchor="middle" x="463.52 468.77 474.02 479.27 484.52 489.77 495.02 500.27 505.52 510.77 516.02 521.27" y="613.8" font-size="8.9" style="stroke:#111;stroke-width:0.22">7 Round nuts</text>
<text class="s" transform="scale(0.88,1)" text-anchor="middle" x="463.52 468.77 474.02 479.27 484.52 489.77 495.02 500.27 505.52 510.77" y="626.5" font-size="8.9" style="stroke:#111;stroke-width:0.22">8 E27 bulb</text>
<text class="s" transform="scale(0.88,1)" text-anchor="middle" x="463.52 468.77 474.02 479.27 484.52 489.77 495.02" y="639.3" font-size="8.9" style="stroke:#111;stroke-width:0.22">9 Glass</text>
<text class="s" transform="scale(0.88,1)" text-anchor="middle" x="458.30 463.55 468.80 474.05 479.30 484.55 489.80 495.05 500.30 505.55 510.80 516.05" y="651.4" font-size="8.9" style="stroke:#111;stroke-width:0.22">10 Iron dish</text>
<text class="s" transform="scale(0.88,1)" text-anchor="middle" x="458.30 463.55 468.80 474.05 479.30 484.55 489.80 495.05" y="663.6" font-size="8.9" style="stroke:#111;stroke-width:0.22">11 Screw</text>

</svg>
</body></html>
